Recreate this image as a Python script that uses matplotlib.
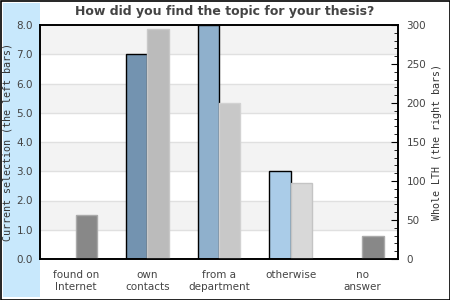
import matplotlib.pyplot as plt
from matplotlib.patches import Rectangle
from matplotlib.ticker import MultipleLocator
import numpy as np

# categories and values
categories = ["found on\nInternet", "own\ncontacts", "from a\ndepartment", "otherwise", "no\nanswer"]
current_selection = [0, 7, 8, 3, 0]
whole_lth = [57, 295, 200, 97, 30]

left_colors = ["#5f87ab", "#7393b0", "#8fb0cc", "#aacce8", "#c0dcf2"]
right_colors = ["#888888", "#bbbbbb", "#c8c8c8", "#d8d8d8", "#888888"]
right_edges = ["#aaaaaa", "#c8c8c8", "#d2d2d2", "#c4c4c4", "#aaaaaa"]

fig = plt.figure(figsize=(4.5, 3), dpi=100)
fig.patch.set_facecolor("white")

# light blue strip on the left + outer frame
fig.patches.append(Rectangle((3 / 450, 3 / 300), 37 / 450, 294 / 300, transform=fig.transFigure,
                             facecolor="#c8e8fc", edgecolor="none", zorder=-5))
fig.patches.append(Rectangle((0.5 / 450, 0.5 / 300), 449 / 450, 299 / 300, transform=fig.transFigure,
                             facecolor="none", edgecolor="black", linewidth=1.2, zorder=5))

ax1 = fig.add_axes([40 / 450, 41 / 300, 358 / 450, 234 / 300])
ax2 = ax1.twinx()

x = np.arange(len(categories))
w = 0.3

# alternating bands and grid lines
for i in range(8):
    if i % 2 == 1:
        ax1.axhspan(i, i + 1, color="#f3f3f3", zorder=0, linewidth=0)
    ax1.axhline(i, color="#e0e0e0", linewidth=1, zorder=0.5)

for i, v in enumerate(current_selection):
    if v > 0:
        ax1.bar(x[i] - w / 2, v, w, color=left_colors[i], edgecolor="black", linewidth=1, zorder=2)

ax1.set_ylim(0, 8)
ax1.set_xlim(-0.5, len(categories) - 0.5)
ax1.set_yticks(np.arange(0, 9, 1.0))
ax1.set_yticklabels([f"{v:.1f}" for v in np.arange(0, 9, 1.0)])
ax1.tick_params(axis="y", length=0, pad=5, labelsize=7.5, labelcolor="#444444")
ax1.set_xticks(x)
ax1.set_xticklabels(categories)
ax1.tick_params(axis="x", length=0, pad=8, labelsize=7.5, labelcolor="#444444")
for lbl in ax1.get_xticklabels():
    lbl.set_linespacing(1.25)
ax1.set_ylabel("Current selection (the left bars)", family="monospace", fontsize=7.2,
               color="#333333")
ax1.yaxis.set_label_coords(-0.078, 0.5)

for i, v in enumerate(whole_lth):
    ax2.bar(x[i] + w / 2, v, w, color=right_colors[i], edgecolor=right_edges[i], linewidth=1, zorder=2)

ax2.set_ylim(0, 300)
ax2.yaxis.set_major_locator(MultipleLocator(50))
ax2.yaxis.set_minor_locator(MultipleLocator(10))
ax2.tick_params(axis="y", which="major", direction="in", length=5, pad=6, labelsize=7.5,
                labelcolor="#444444")
ax2.tick_params(axis="y", which="minor", direction="in", length=3)
ax2.set_ylabel("Whole LTH (the right bars)", family="monospace", fontsize=7.2, color="#333333",
               labelpad=4)

for a in (ax1, ax2):
    for s in a.spines.values():
        s.set_linewidth(1.2)
        s.set_color("black")

fig.text(0.5, 288 / 300, "How did you find the topic for your thesis?", ha="center", va="center",
         fontsize=9, fontweight="bold", color="#444444")

fig.savefig("out.png", dpi=100)
